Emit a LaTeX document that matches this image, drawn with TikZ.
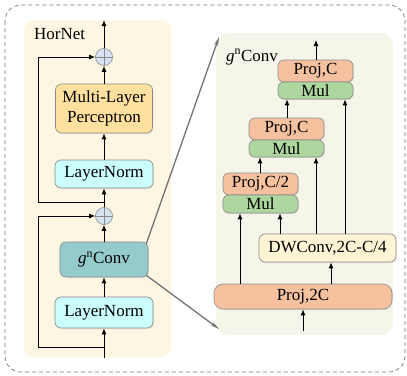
\documentclass[tikz,border=0pt]{standalone}
\usepackage{fontspec}
\setmainfont{Liberation Serif}
\usetikzlibrary{arrows.meta,calc,shadows}
\definecolor{panelA}{HTML}{FCF6E3}
\definecolor{panelB}{HTML}{F5F5E9}
\definecolor{mlpc}{HTML}{FFE09E}
\definecolor{lnc}{HTML}{CCFDFD}
\definecolor{gnc}{HTML}{95CBCB}
\definecolor{projc}{HTML}{F5C19F}
\definecolor{mulc}{HTML}{AED7A0}
\definecolor{dwc}{HTML}{FFF4D4}
\definecolor{circc}{HTML}{D7E3F3}
\definecolor{edgec}{HTML}{8A8A8A}
\begin{document}
\begin{tikzpicture}[x=1pt,y=-1pt,
  every node/.style={font=\fontsize{17}{20}\selectfont, inner sep=0pt},
  blk/.style={draw=edgec, line width=0.6pt, rounded corners=6pt, align=center,
    drop shadow={opacity=0.15, shadow xshift=1pt, shadow yshift=-1pt}},
  plusc/.style={circle, draw=edgec, fill=circc, minimum size=17pt, line width=0.6pt},
  arr/.style={-{Latex[length=6pt,width=5pt]}, line width=1pt, black},
  zoomln/.style={-{Stealth[length=9pt,width=4pt]}, line width=1.3pt, draw=black!55}]
\useasboundingbox (0,0) rectangle (407,375);
% outer dashed frame
\draw[draw=black!55, dash pattern=on 4pt off 3pt, line width=0.7pt, rounded corners=16pt] (5,5) rectangle (405,372);
% HorNet panel
\fill[panelA, rounded corners=10pt] (24,20) rectangle (171,357);
\node[anchor=west] (hlabel) at (34,34) {HorNet};
% HorNet blocks
\node[plusc] (c1) at (104,57) {};
\draw[edgec, line width=0.6pt] (c1.north) -- (c1.south) (c1.west) -- (c1.east);
\node[blk, fill=mlpc, minimum width=97pt, minimum height=49pt] (mlp) at (104,108.5) {Multi-Layer\\Perceptron};
\node[blk, fill=lnc, minimum width=98pt, minimum height=28pt] (ln1) at (104,174) {LayerNorm};
\node[plusc] (c2) at (104,216) {};
\draw[edgec, line width=0.6pt] (c2.north) -- (c2.south) (c2.west) -- (c2.east);
\node[blk, fill=gnc, minimum width=88pt, minimum height=35pt] (gn) at (104,259.5) {\textit{g}\textsuperscript{n}Conv};
\node[blk, fill=lnc, minimum width=98pt, minimum height=31pt] (ln2) at (104,312.5) {LayerNorm};
\coordinate (hin) at (104,358);
\coordinate (hout) at (104,20);
\coordinate (s2) at (104,347);
\coordinate (s1) at (104,202);
\coordinate (skx) at (38,0);
% HorNet connectors
\draw[arr] (hin) -- (ln2.south);
\draw[arr] (ln2.north) -- (gn.south);
\draw[arr] (gn.north) -- (c2.south);
\draw[arr] (c2.north) -- (ln1.south);
\draw[arr] (ln1.north) -- (mlp.south);
\draw[arr] (mlp.north) -- (c1.south);
\draw[arr] (c1.north) -- (hout);
\draw[arr] (s2) -- (s2 -| skx) -- (c2 -| skx) -- (c2.west);
\draw[arr] (s1) -- (s1 -| skx) -- (c1 -| skx) -- (c1.west);
% gnConv panel
\fill[panelB, rounded corners=12pt] (216,33) rectangle (393,335);
\node[anchor=west] (glabel) at (226,57) {\textit{g}\textsuperscript{n}Conv};
% stacks
\node[blk, fill=projc, minimum width=75pt, minimum height=22pt] (p1) at (315.5,71) {Proj,C};
\node[blk, fill=mulc, minimum width=75pt, minimum height=17pt] (m1) at (315.5,90.5) {Mul};
\node[blk, fill=projc, minimum width=75pt, minimum height=22pt] (p2) at (286.5,129) {Proj,C};
\node[blk, fill=mulc, minimum width=75pt, minimum height=17pt] (m2) at (286.5,148.5) {Mul};
\node[blk, fill=projc, minimum width=75pt, minimum height=22pt] (p3) at (260.5,184) {Proj,C/2};
\node[blk, fill=mulc, minimum width=75pt, minimum height=18pt] (m3) at (260.5,204) {Mul};
\node[blk, fill=dwc, minimum width=137pt, minimum height=28pt] (dw) at (327.5,248) {DWConv,2C-C/4};
\node[blk, fill=projc, minimum width=178pt, minimum height=25pt, rounded corners=9pt] (p2c) at (303,296.5) {Proj,2C};
\coordinate (gout) at (316,40);
\coordinate (gin) at (303,331);
\coordinate (xa) at (287,0);
\coordinate (xb) at (345,0);
\coordinate (xc) at (260,0);
\coordinate (xd) at (316,0);
\coordinate (xe) at (240,0);
\coordinate (xf) at (280,0);
\coordinate (xg) at (331,0);
% gnConv connectors
\draw[arr] (p1.north -| gout) -- (gout);
\draw[arr] (p2.north -| xa) -- (m1.south -| xa);
\draw[arr] (dw.north -| xb) -- (m1.south -| xb);
\draw[arr] (p3.north -| xc) -- (m2.south -| xc);
\draw[arr] (dw.north -| xd) -- (m2.south -| xd);
\draw[arr] (p2c.north -| xe) -- (m3.south -| xe);
\draw[arr] (dw.north -| xf) -- (m3.south -| xf);
\draw[arr] (p2c.north -| xg) -- (dw.south -| xg);
\draw[arr] (gin) -- (p2c.south);
% zoom lines
\coordinate (zt) at (219,37);
\coordinate (zb) at (219,329);
\draw[zoomln] (gn.north east) ++(-2,2) -- (zt);
\draw[zoomln] (gn.south east) ++(-2,-2) -- (zb);
\end{tikzpicture}
\end{document}
